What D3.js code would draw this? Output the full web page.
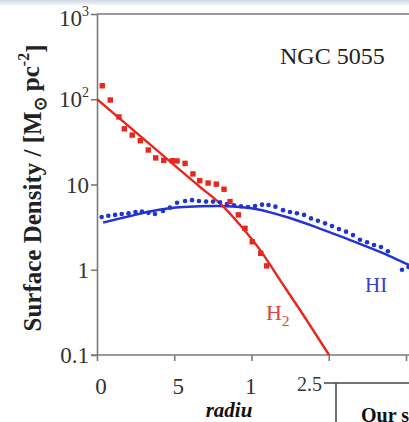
<!DOCTYPE html>
<html>
<head>
<meta charset="utf-8">
<script src="https://cdn.jsdelivr.net/npm/d3@7"></script>
<style>
  html, body { margin: 0; padding: 0; background: #fff; }
  svg { display: block; }
</style>
</head>
<body>
<svg id="chart" width="409" height="422"></svg>
<script>
// ---------- data ----------
const xTickValues = [0, 5, 10, 15, 20];
const xTickLabels = ["0", "5", "1"];           // visible labels (third is cut by the inset)
const yTickValues = [1000, 100, 10, 1, 0.1];
const yTickBase = ["10", "10", "10", "1", "0.1"];
const yTickSup  = ["3", "2", "", "", ""];

// H2 observed points (radius, surface density)
const h2R = [0.34, 0.86, 1.42, 1.77, 2.28, 2.80, 3.32, 3.80, 4.32, 4.87, 5.18, 5.70, 6.21, 6.65, 7.19, 7.72, 8.22, 8.61, 9.15, 9.58, 10.05, 10.60, 10.98];
const h2V = [144, 98, 62, 45, 38, 32.6, 25.4, 20.5, 19.2, 19.0, 18.9, 17.7, 13.3, 11.1, 10.4, 10.1, 8.8, 6.3, 4.4, 3.06, 2.13, 1.56, 1.11];

// H2 fit line
const h2FitR = [0, 3.43, 6.67, 7.96, 9.26, 10.55, 11.84, 13.14, 15.02];
const h2FitV = [100, 29.5, 9.35, 6.0, 3.35, 1.71, 0.76, 0.337, 0.1];

// HI observed points
const hiR = [0.30, 0.73, 1.17, 1.60, 2.04, 2.49, 2.91, 3.33, 3.75, 4.27, 4.72, 5.18, 5.70, 6.15, 6.60, 7.06, 7.51, 7.96, 8.41, 8.87, 9.32, 9.77, 10.23, 10.68, 11.10, 11.55, 12.04, 12.49, 12.94, 13.40, 13.85, 14.30, 14.76, 15.21, 15.66, 16.12, 16.57, 17.02, 17.48, 17.93, 18.38, 18.83, 19.74, 20.16];
const hiV = [4.15, 4.3, 4.4, 4.5, 4.6, 4.75, 4.8, 4.65, 4.5, 4.9, 5.35, 6.1, 6.4, 6.55, 6.4, 6.3, 6.3, 6.2, 5.9, 5.7, 5.55, 5.45, 5.6, 5.8, 5.75, 5.5, 5.0, 4.75, 4.6, 4.4, 4.0, 3.75, 3.5, 3.25, 3.0, 2.8, 2.55, 2.25, 2.1, 1.95, 1.85, 1.65, 1.0, 1.08];

// HI fit line
const hiFitR = [0.39, 2.14, 3.43, 5.57, 7.77, 9.90, 12.04, 14.17, 16.38, 18.51, 20.19, 20.6];
const hiFitV = [3.58, 4.27, 4.82, 5.44, 5.60, 5.30, 4.27, 3.17, 2.23, 1.57, 1.14, 1.06];

// ---------- drawing ----------
const svg = d3.select("#chart");
const serif = "'Liberation Serif', 'Times New Roman', serif";
const axisColor = "#7a7a7a";
const red = "#e8261f", blue = "#2233d6";

const x = d3.scaleLinear().domain([0, 20]).range([97, 406]);
const y = d3.scaleLog().domain([0.1, 1000]).range([355, 14]);

// top header strip
const defs = svg.append("defs");
const grad = defs.append("linearGradient").attr("id", "hdr").attr("x1", 0).attr("x2", 0).attr("y1", 0).attr("y2", 1);
grad.append("stop").attr("offset", "0%").attr("stop-color", "#cfd9e4");
grad.append("stop").attr("offset", "100%").attr("stop-color", "#f3f6f9");
svg.append("rect").attr("x", 0).attr("y", 0).attr("width", 409).attr("height", 5).attr("fill", "url(#hdr)");

defs.append("clipPath").attr("id", "plotclip")
  .append("rect").attr("x", x(0)).attr("y", y(1000)).attr("width", 409 - x(0)).attr("height", y(0.1) - y(1000));

// top border
svg.append("line").attr("x1", x(0)).attr("x2", 409).attr("y1", y(1000)).attr("y2", y(1000))
  .attr("stroke", axisColor).attr("stroke-width", 1.6);

// axes
const yAxis = svg.append("g").attr("transform", `translate(${x(0)},0)`)
  .call(d3.axisLeft(y).tickValues(yTickValues).tickSize(6).tickSizeOuter(0).tickFormat(""));
const xAxis = svg.append("g").attr("transform", `translate(0,${y(0.1)})`)
  .call(d3.axisBottom(x).tickValues(xTickValues).tickSize(6).tickSizeOuter(0).tickFormat(""));
[xAxis, yAxis].forEach(g => {
  g.selectAll("path, line").attr("stroke", axisColor).attr("stroke-width", 1.6);
});
xAxis.select(".domain").attr("d", `M${x(0) - 6},0H409`);

// y tick labels
yTickValues.forEach((v, i) => {
  const t = svg.append("text")
    .attr("x", 89).attr("y", y(v) + (i === 0 ? 4 : 0))
    .attr("dy", "0.35em").attr("text-anchor", "end")
    .attr("font-family", serif).attr("font-size", 23).attr("fill", "#333");
  t.append("tspan").text(yTickBase[i]);
  if (yTickSup[i]) t.append("tspan").attr("font-size", 14).attr("dy", "-0.75em").text(yTickSup[i]);
});

// x tick labels
xTickLabels.forEach((lab, i) => {
  const full = i < 2;
  svg.append("text")
    .attr("x", x(xTickValues[i]) + 4 + (full ? 0 : 1))
    .attr("y", 394)
    .attr("text-anchor", full ? "middle" : "end")
    .attr("font-family", serif).attr("font-size", 23).attr("fill", "#333")
    .text(lab);
});

// x axis title (cut by the inset)
svg.append("text").attr("x", 229).attr("y", 417).attr("text-anchor", "middle")
  .attr("font-family", serif).attr("font-size", 21).attr("font-weight", "bold").attr("font-style", "italic")
  .attr("fill", "#111").text("radiu");

// y axis title
const yt = svg.append("text")
  .attr("transform", "translate(41,188) rotate(-90)")
  .attr("text-anchor", "middle")
  .attr("font-family", serif).attr("font-size", 25).attr("font-weight", "bold").attr("fill", "#222");
yt.append("tspan").text("Surface Density / [M");
yt.append("tspan").attr("font-size", 17).attr("dy", "0.3em").text("\u2299");
yt.append("tspan").attr("dy", "-0.3em").text(" pc");
yt.append("tspan").attr("font-size", 16).attr("dy", "-0.6em").text("-2");
yt.append("tspan").attr("dy", "0.6em").text("]");

// plot content
const plot = svg.append("g").attr("clip-path", "url(#plotclip)");
const line = d3.line().x(d => x(d[0])).y(d => y(d[1])).curve(d3.curveMonotoneX);

plot.append("path").datum(hiFitR.map((r, i) => [r, hiFitV[i]]))
  .attr("d", line).attr("fill", "none").attr("stroke", blue).attr("stroke-width", 2.4);
plot.append("path").datum(h2FitR.map((r, i) => [r, h2FitV[i]]))
  .attr("d", line).attr("fill", "none").attr("stroke", red).attr("stroke-width", 2.4);

plot.selectAll("circle.hi").data(hiR.map((r, i) => [r, hiV[i]])).enter()
  .append("circle").attr("class", "hi")
  .attr("cx", d => x(d[0])).attr("cy", d => y(d[1])).attr("r", 2.3).attr("fill", blue);

plot.selectAll("rect.h2").data(h2R.map((r, i) => [r, h2V[i]])).enter()
  .append("rect").attr("class", "h2")
  .attr("x", d => x(d[0]) - 2.7).attr("y", d => y(d[1]) - 2.7)
  .attr("width", 5.4).attr("height", 5.4).attr("fill", red);

// annotations
svg.append("text").attr("x", 280).attr("y", 64)
  .attr("font-family", serif).attr("font-size", 24).attr("fill", "#222").text("NGC 5055");
svg.append("text").attr("x", 365).attr("y", 292)
  .attr("font-family", serif).attr("font-size", 21).attr("fill", "#3342c8").text("HI");
const h2t = svg.append("text").attr("x", 266).attr("y", 320)
  .attr("font-family", serif).attr("font-size", 22).attr("fill", "#d9443c");
h2t.append("tspan").text("H");
h2t.append("tspan").attr("font-size", 15).attr("dy", "0.4em").text("2");

// inset fragment of the neighbouring figure
svg.append("rect").attr("x", 336).attr("y", 383).attr("width", 80).attr("height", 50).attr("fill", "#fff");
svg.append("line").attr("x1", 324).attr("x2", 409).attr("y1", 383).attr("y2", 383).attr("stroke", "#444").attr("stroke-width", 1.5);
svg.append("line").attr("x1", 336).attr("x2", 336).attr("y1", 383).attr("y2", 422).attr("stroke", "#444").attr("stroke-width", 1.5);
svg.append("text").attr("x", 322).attr("y", 391).attr("text-anchor", "end")
  .attr("font-family", serif).attr("font-size", 20).attr("fill", "#333").text("2.5");
svg.append("text").attr("x", 361).attr("y", 422)
  .attr("font-family", serif).attr("font-size", 20).attr("font-weight", "bold").attr("fill", "#111").text("Our s");
</script>
</body>
</html>
